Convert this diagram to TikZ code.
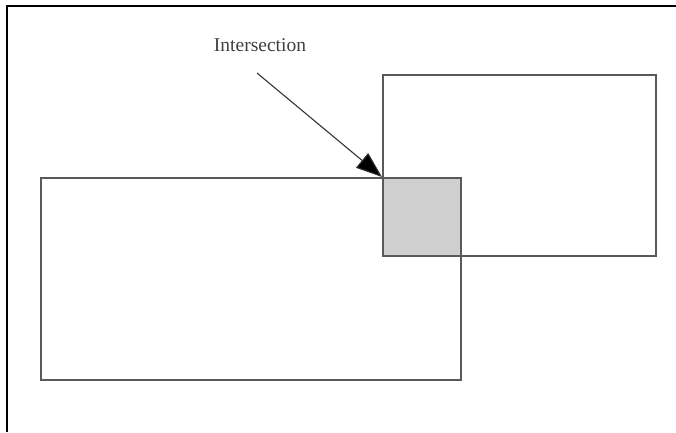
\documentclass[tikz,border=0pt]{standalone}
\usepackage{fontspec}
\setmainfont{Liberation Serif}
\usetikzlibrary{arrows.meta}
\begin{document}
\begin{tikzpicture}[x=1pt,y=-1pt,
  box/.style={draw=black!65,line width=1.7pt},
  shade/.style={box,fill=black!19},
  frameline/.style={draw=black,line width=2pt},
  pointer/.style={draw=black!80,line width=1.1pt,-{Triangle[length=26pt,width=19pt,fill=black]}}]
\useasboundingbox (0,0) rectangle (676,432);
\draw[frameline] (6.5,432) -- (6.5,6) -- (676,6);
\node[box,minimum width=420pt,minimum height=202pt,inner sep=0pt,anchor=north west] (left) at (40,177) {};
\node[box,minimum width=273pt,minimum height=181pt,inner sep=0pt,anchor=north west] (right) at (382,74) {};
\node[shade,minimum width=78pt,minimum height=78pt,inner sep=0pt,anchor=north west] (inter) at (382,177) {};
\node[font=\fontsize{19.5}{22}\selectfont,text=black!75,inner sep=0pt] (lbl) at (260,45) {Intersection};
\coordinate (start) at (257,73);
\draw[pointer] (start) -- (inter.north west);
\end{tikzpicture}
\end{document}
